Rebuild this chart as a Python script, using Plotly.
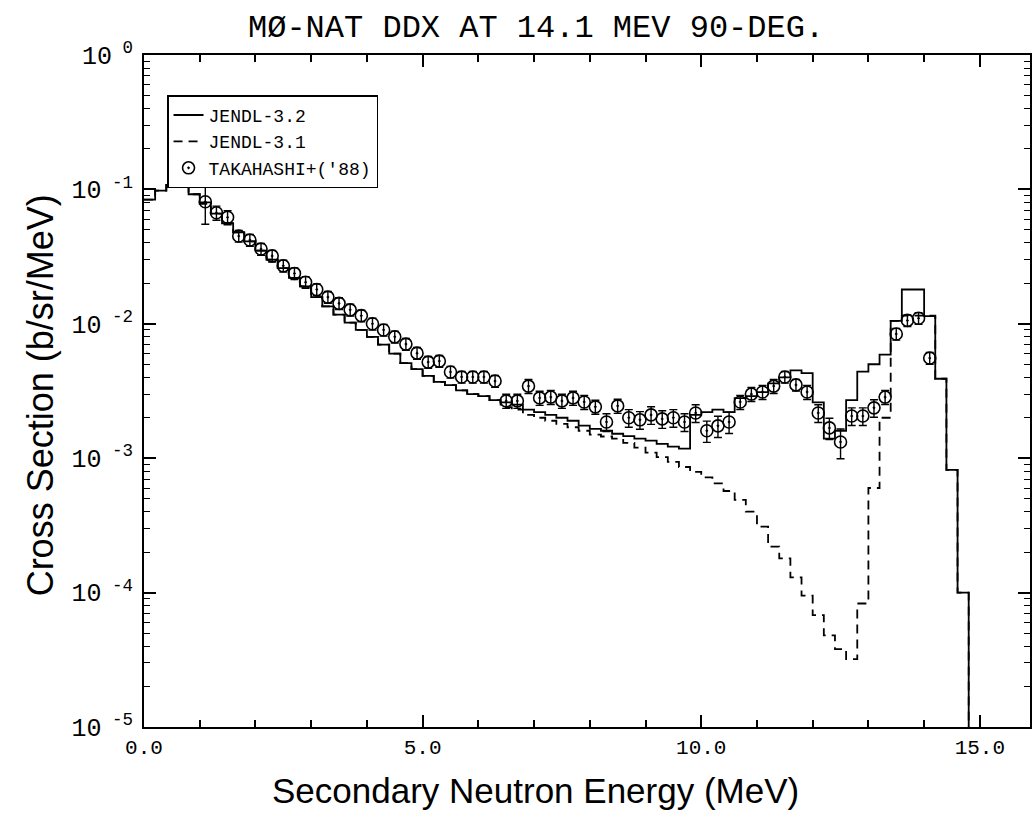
import plotly.graph_objects as go

# ---------------- data ----------------
# JENDL-3.2 histogram: bin lower edges (MeV) every 0.2 MeV, last edge 14.8
bin_lo = [round(0.2 * i, 1) for i in range(74)]
bin_hi_last = 14.8

jendl32 = [0.084, 0.098, 0.108, 0.110, 0.092, 0.080, 0.066, 0.056, 0.048, 0.041,
           0.035, 0.030, 0.026, 0.022, 0.019, 0.0158, 0.0135, 0.0117, 0.0102, 0.0090,
           0.0080, 0.0070, 0.0060, 0.0051, 0.0046, 0.0041, 0.0037, 0.0035, 0.0032, 0.0030,
           0.0029, 0.0027, 0.0026, 0.0025, 0.0023, 0.0022, 0.0021, 0.0020, 0.0019, 0.00175,
           0.00165, 0.0016, 0.00152, 0.00146, 0.0014, 0.00135, 0.00128, 0.00122, 0.00118, 0.0021,
           0.0022, 0.0023, 0.0022, 0.0028, 0.0029, 0.0031, 0.0036, 0.0040, 0.0045, 0.0043,
           0.0026, 0.0014, 0.0016, 0.0027, 0.0044, 0.0050, 0.0059, 0.0105, 0.0180, 0.0180,
           0.0114, 0.0039, 0.00082, 0.0001]

jendl31 = [0.084, 0.098, 0.108, 0.110, 0.092, 0.078, 0.066, 0.056, 0.048, 0.041,
           0.035, 0.030, 0.026, 0.022, 0.019, 0.0158, 0.0135, 0.0117, 0.0102, 0.0090,
           0.0080, 0.0070, 0.0060, 0.0051, 0.0046, 0.0041, 0.0037, 0.0035, 0.0032, 0.0030,
           0.0029, 0.0027, 0.0024, 0.0023, 0.0021, 0.0020, 0.0019, 0.0018, 0.0017, 0.0016,
           0.0015, 0.00145, 0.0014, 0.0013, 0.0012, 0.0011, 0.00102, 0.00094, 0.00086, 0.00079,
           0.00072, 0.00065, 0.00057, 0.00049, 0.00040, 0.00031, 0.00022, 0.00018, 0.00013, 0.000095,
           0.000068, 0.000048, 0.000038, 0.000032, 0.000083, 0.00060, 0.0020, 0.0105, 0.0115, 0.0115,
           0.0115, 0.0039, 0.00082, 0.0001]

# Takahashi+ ('88) experimental points
exp_e = [round(1.1 + 0.2 * i, 1) for i in range(66)]
exp_y = [0.081, 0.067, 0.062, 0.045, 0.042, 0.036, 0.032, 0.027, 0.0237, 0.0204,
         0.018, 0.0158, 0.0142, 0.0127, 0.0115, 0.0100, 0.0090, 0.0080, 0.00706, 0.00605,
         0.00519, 0.00528, 0.00438, 0.00402, 0.00402, 0.00402, 0.00375, 0.00267, 0.00267, 0.00344,
         0.00281, 0.00285, 0.00267, 0.00281, 0.00262, 0.00241, 0.00186, 0.00245, 0.00200, 0.00193,
         0.00210, 0.00196, 0.00200, 0.00186, 0.00217, 0.00160, 0.00174, 0.00186, 0.00262, 0.00300,
         0.00311, 0.00344, 0.00402, 0.00351, 0.00311, 0.00217, 0.00168, 0.00132, 0.00206, 0.00206,
         0.00237, 0.00285, 0.00840, 0.01060, 0.01100, 0.00556]
exp_err_frac = [0.32, 0.12, 0.12, 0.10, 0.10, 0.10, 0.10, 0.10, 0.10, 0.10,
                0.10, 0.10, 0.10, 0.10, 0.10, 0.10, 0.10, 0.10, 0.10, 0.10,
                0.10, 0.10, 0.10, 0.10, 0.10, 0.10, 0.10, 0.12, 0.12, 0.12,
                0.12, 0.12, 0.12, 0.12, 0.12, 0.12, 0.15, 0.12, 0.15, 0.15,
                0.15, 0.15, 0.15, 0.15, 0.15, 0.18, 0.18, 0.18, 0.12, 0.12,
                0.12, 0.12, 0.10, 0.10, 0.12, 0.15, 0.18, 0.25, 0.15, 0.15,
                0.15, 0.12, 0.10, 0.10, 0.10, 0.10]

x_ticks = [0, 5, 10, 15]
x_ticktext = ["0.0", "5.0", "10.0", "15.0"]
y_ticks = [1e-5, 1e-4, 1e-3, 1e-2, 1e-1, 1]
y_ticktext = ["10<sup> -5</sup>", "10<sup> -4</sup>", "10<sup> -3</sup>",
              "10<sup> -2</sup>", "10<sup> -1</sup>", "10<sup> 0</sup>"]

# ---------------- figure ----------------
def step_xy(vals):
    xs = list(bin_lo) + [bin_hi_last]
    ys = list(vals) + [1e-7]
    return xs, ys

fig = go.Figure()

xs, ys = step_xy(jendl31)
fig.add_trace(go.Scatter(x=xs, y=ys, mode="lines", line_shape="hv",
                         line=dict(color="black", width=1.8, dash="9px,6px"),
                         name="JENDL-3.1", legendrank=2))
xs, ys = step_xy(jendl32)
fig.add_trace(go.Scatter(x=xs, y=ys, mode="lines", line_shape="hv",
                         line=dict(color="black", width=1.8),
                         name="JENDL-3.2", legendrank=1))

fig.add_trace(go.Scatter(
    x=exp_e, y=exp_y, mode="markers", name="TAKAHASHI+('88)", legendrank=3,
    marker=dict(symbol="circle-open-dot", size=12, color="black",
                line=dict(color="black", width=1.6)),
    error_y=dict(type="data", array=[v * f for v, f in zip(exp_y, exp_err_frac)],
                 color="black", thickness=1.4, width=4),
))

mono = "Liberation Mono"
fig.update_layout(
    width=1033, height=819,
    margin=dict(l=144, r=1, t=55, b=92),
    paper_bgcolor="white", plot_bgcolor="white",
    showlegend=True,
    legend=dict(x=0.026, y=0.94, xanchor="left", yanchor="top",
                bgcolor="white", bordercolor="black", borderwidth=1.5,
                font=dict(family=mono, size=18, color="black"),
                tracegroupgap=0, itemwidth=30),
    xaxis=dict(range=[0, 15.9], showline=True, linecolor="black", linewidth=2,
               mirror="ticks", ticks="inside", ticklen=12, tickwidth=1.5,
               tickcolor="black", tickvals=x_ticks, ticktext=x_ticktext,
               tickfont=dict(family=mono, size=21, color="black"),
               showgrid=False, zeroline=False,
               minor=dict(ticks="inside", ticklen=7, tickwidth=1.5,
                          tickcolor="black", dtick=1, tick0=0, showgrid=False)),
    yaxis=dict(type="log", range=[-5, 0], showline=True, linecolor="black", linewidth=2,
               mirror="ticks", ticks="inside", ticklen=12, tickwidth=1.5,
               tickcolor="black", tickvals=y_ticks, ticktext=y_ticktext,
               tickfont=dict(family=mono, size=25, color="black"),
               ticklabelstandoff=4,
               showgrid=False, zeroline=False,
               minor=dict(ticks="inside", ticklen=6, tickwidth=1.2,
                          tickcolor="black", dtick="D1", showgrid=False)),
    annotations=[
        dict(text="MØ-NAT DDX AT 14.1 MEV 90-DEG.", xref="paper", yref="paper",
             x=0.4426, y=1.040, xanchor="center", yanchor="middle", showarrow=False,
             font=dict(family=mono, size=32, color="black")),
        dict(text="Secondary Neutron Energy (MeV)", xref="paper", yref="paper",
             x=0.442, y=-0.094, xanchor="center", yanchor="middle", showarrow=False,
             font=dict(family="Liberation Sans", size=35, color="black")),
        dict(text="Cross Section (b/sr/MeV)", xref="paper", yref="paper",
             x=-0.117, y=0.494, xanchor="center", yanchor="middle", showarrow=False,
             textangle=-90,
             font=dict(family="Liberation Sans", size=36, color="black")),
    ],
)

fig.write_html("out.html")
